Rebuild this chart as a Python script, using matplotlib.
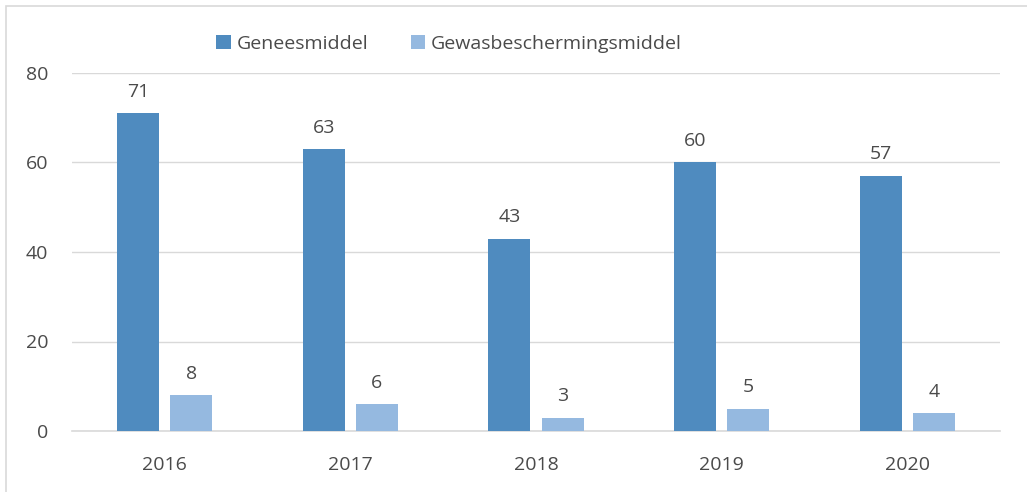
import matplotlib
matplotlib.use("Agg")
import matplotlib.pyplot as plt
import numpy as np
from matplotlib.patches import Rectangle

years = ["2016", "2017", "2018", "2019", "2020"]
geneesmiddel = [71, 63, 43, 60, 57]
gewas = [8, 6, 3, 5, 4]
yticks = [0, 20, 40, 60, 80]

c1 = "#4F8BBF"
c2 = "#95B9E0"
tc = "#4A4A4A"
fs = 14
plt.rcParams['font.family'] = ['Open Sans', 'DejaVu Sans']

fig = plt.figure(figsize=(10.27, 4.92), dpi=100)
ax = fig.add_axes([72/1027, 1-431/492, (1000-72)/1027, (431-73)/492])

x = np.arange(len(years))
w = 0.226
off = 0.143
b1 = ax.bar(x - off, geneesmiddel, w, color=c1, label="Geneesmiddel", zorder=3)
b2 = ax.bar(x + off, gewas, w, color=c2, label="Gewasbeschermingsmiddel", zorder=3)
for rects, vals in ((b1, geneesmiddel), (b2, gewas)):
    for r, v in zip(rects, vals):
        ax.annotate(str(v), (r.get_x() + r.get_width()/2, v), xytext=(0, 9),
                    textcoords="offset points", ha="center", va="bottom",
                    fontsize=fs, color=tc)

ax.set_xlim(-0.5, len(years) - 0.5)
ax.set_ylim(0, 80)
ax.set_yticks(yticks)
ax.set_xticks(x)
ax.set_xticklabels(years)
ax.grid(axis="y", color="#D9D9D9", linewidth=1, zorder=0)
for s in ("top", "right", "left"):
    ax.spines[s].set_visible(False)
ax.spines["bottom"].set_color("#D9D9D9")
ax.spines["bottom"].set_linewidth(1.2)
ax.tick_params(axis="both", length=0, labelsize=fs, labelcolor=tc)
ax.tick_params(axis="y", pad=17)
ax.tick_params(axis="x", pad=18)

leg = fig.legend(loc="center", bbox_to_anchor=(449/1027, 1-44/492), ncol=2, frameon=False,
                 fontsize=fs, handlelength=0.75, handleheight=0.75, handletextpad=0.3,
                 columnspacing=2.2, labelcolor=tc)

fig.patches.append(Rectangle((6/1027, -0.1), 1.2, 1.1 - 6/492, transform=fig.transFigure,
                             fill=False, edgecolor="#D9D9D9", linewidth=1.2))
fig.savefig("out.png", dpi=100)
